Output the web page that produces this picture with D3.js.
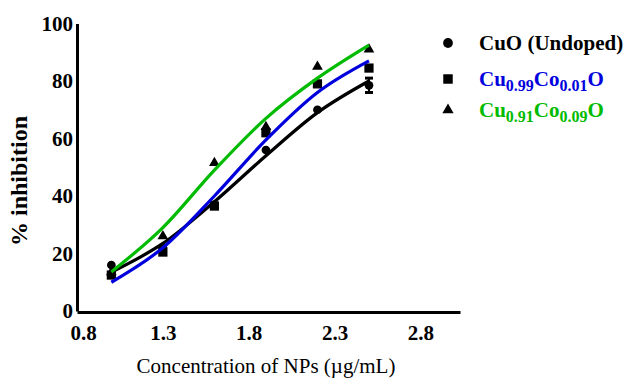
<!DOCTYPE html>
<html>
<head>
<meta charset="utf-8">
<script src="https://cdn.jsdelivr.net/npm/d3@7"></script>
<style>
  body { margin: 0; background: #fff; }
</style>
</head>
<body>
<div id="chart"></div>
<script>
// concentration (x) values shared by all series
let concentrations = [1.0, 1.3, 1.6, 1.9, 2.2, 2.5];

// measured % inhibition
let cuoValues = [16, 22, 37, 56, 70, 78.5];
let co01Values = [12.5, 20.5, 36.5, 62, 79, 84.5];
let co09Values = [13.5, 26, 51.5, 64, 85, 91];

// fitted curves
let cuoFit = [13.5, 23.5, 38, 54, 69, 80];
let co01Fit = [10, 22, 40, 59.5, 76, 87];
let co09Fit = [13.6, 29, 49, 67, 81, 92.5];

// error bar on the last CuO point
let cuoErrLow = [null, null, null, null, null, 76];
let cuoErrHigh = [null, null, null, null, null, 81];

let xTicks = [0.8, 1.3, 1.8, 2.3, 2.8];
let yTicks = [0, 20, 40, 60, 80, 100];

let serif = "'Liberation Serif'";

let series = [
    {name: "CuO", values: cuoValues, fit: cuoFit, color: "#000000", shape: d3.symbolCircle, size: 60},
    {name: "Co01", values: co01Values, fit: co01Fit, color: "#0000dd", shape: d3.symbolSquare, size: 85},
    {name: "Co09", values: co09Values, fit: co09Fit, color: "#00bb00", shape: d3.symbolTriangle, size: 50}
];

let width = 627, height = 381;
let svg = d3.select("#chart").append("svg")
    .attr("width", width)
    .attr("height", height);

let x = d3.scaleLinear().domain([0.8, 3.03]).range([77, 460]);
let y = d3.scaleLinear().domain([0, 100]).range([311, 23.5]);

// axes: plain lines, no tick marks
let xAxis = svg.append("g")
    .attr("transform", "translate(0," + 312 + ")")
    .call(d3.axisBottom(x).tickValues(xTicks).tickSize(0).tickFormat(d3.format(".1f")));
xAxis.attr("font-family", null);
xAxis.select(".domain").attr("stroke", "#000").attr("stroke-width", 3);
xAxis.selectAll("text")
    .attr("dy", null)
    .attr("y", 28)
    .style("font-family", serif)
    .style("font-size", "21px")
    .style("font-weight", "bold")
    .attr("fill", "#000");
xAxis.selectAll("text").filter(function(d){ return d === 0.8; }).attr("dx", 6);

let yAxis = svg.append("g")
    .attr("transform", "translate(" + 77 + ",0)")
    .call(d3.axisLeft(y).tickValues(yTicks).tickSize(0));
yAxis.attr("font-family", null);
yAxis.select(".domain").attr("stroke", "#000").attr("stroke-width", 3);
yAxis.selectAll("text")
    .attr("x", -4)
    .style("font-family", serif)
    .style("font-size", "21px")
    .style("font-weight", "bold")
    .attr("fill", "#000");

// axis titles
svg.append("text")
    .attr("transform", "translate(27,181) rotate(-90)")
    .attr("text-anchor", "middle")
    .style("font-family", serif)
    .style("font-size", "24px")
    .style("font-weight", "bold")
    .text("% inhibition");

svg.append("text")
    .attr("x", 266)
    .attr("y", 373)
    .attr("text-anchor", "middle")
    .style("font-family", serif)
    .style("font-size", "21px")
    .text("Concentration of NPs (\u00b5g/mL)");

// error bars
let errData = concentrations.map(function(c, i){
    return {x: c, lo: cuoErrLow[i], hi: cuoErrHigh[i]};
}).filter(function(d){ return d.lo !== null; });

let err = svg.append("g").selectAll("g").data(errData).enter().append("g");
err.append("line")
    .attr("x1", function(d){ return x(d.x); })
    .attr("x2", function(d){ return x(d.x); })
    .attr("y1", function(d){ return y(d.lo); })
    .attr("y2", function(d){ return y(d.hi); })
    .attr("stroke", "#000").attr("stroke-width", 2);
err.append("line")
    .attr("x1", function(d){ return x(d.x) - 4; })
    .attr("x2", function(d){ return x(d.x) + 4; })
    .attr("y1", function(d){ return y(d.lo); })
    .attr("y2", function(d){ return y(d.lo); })
    .attr("stroke", "#000").attr("stroke-width", 3);
err.append("line")
    .attr("x1", function(d){ return x(d.x) - 4; })
    .attr("x2", function(d){ return x(d.x) + 4; })
    .attr("y1", function(d){ return y(d.hi); })
    .attr("y2", function(d){ return y(d.hi); })
    .attr("stroke", "#000").attr("stroke-width", 3);

// markers
series.forEach(function(s){
    svg.append("g").selectAll("path")
        .data(s.values)
        .enter()
        .append("path")
        .attr("d", d3.symbol().type(s.shape).size(s.size))
        .attr("transform", function(d, i){
            return "translate(" + x(concentrations[i]) + "," + y(d) + ")";
        })
        .attr("fill", "#000");
});

// fitted curves
let line = d3.line()
    .x(function(d, i){ return x(concentrations[i]); })
    .y(function(d){ return y(d); })
    .curve(d3.curveMonotoneX);

series.forEach(function(s){
    svg.append("path")
        .datum(s.fit)
        .attr("d", line)
        .attr("fill", "none")
        .attr("stroke", s.color)
        .attr("stroke-width", 3.2);
});

// legend
let legendRows = [
    {parts: [["CuO (Undoped)", false]], color: "#000000", shape: d3.symbolCircle, size: 75},
    {parts: [["Cu", false], ["0.99", true], ["Co", false], ["0.01", true], ["O", false]], color: "#0000dd", shape: d3.symbolSquare, size: 90},
    {parts: [["Cu", false], ["0.91", true], ["Co", false], ["0.09", true], ["O", false]], color: "#00bb00", shape: d3.symbolTriangle, size: 55}
];
let legendY = [43, 79, 110];

let legend = svg.append("g").selectAll("g")
    .data(legendRows)
    .enter()
    .append("g")
    .attr("transform", function(d, i){ return "translate(0," + legendY[i] + ")"; });

legend.append("path")
    .attr("d", function(d){
        return d3.symbol().type(d.shape).size(d.size)();
    })
    .attr("transform", "translate(448,0)")
    .attr("fill", "#000");

let legendText = legend.append("text")
    .attr("x", 479)
    .attr("y", 7)
    .style("font-family", serif)
    .style("font-size", "21px")
    .style("font-weight", "bold")
    .attr("fill", function(d){ return d.color; });

legendText.each(function(d){
    let t = d3.select(this);
    let shifted = false;
    d.parts.forEach(function(p){
        let dy = 0;
        if (p[1] && !shifted) { dy = 5; shifted = true; }
        else if (!p[1] && shifted) { dy = -5; shifted = false; }
        t.append("tspan")
            .attr("dy", dy)
            .style("font-size", p[1] ? "16px" : "21px")
            .text(p[0]);
    });
});
</script>
</body>
</html>
